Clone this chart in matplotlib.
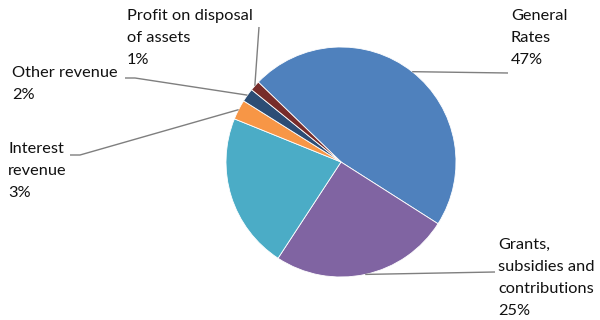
import matplotlib.pyplot as plt
import numpy as np

categories = ["General Rates", "Grants, subsidies and contributions", "Fees and charges",
              "Interest revenue", "Other revenue", "Profit on disposal of assets"]
shares = [46.8, 25.2, 21.9, 2.8, 1.9, 1.4]
# label text with line breaks as shown on chart ("" = not labelled)
names = ["General\nRates", "Grants,\nsubsidies and\ncontributions", "",
         "Interest\nrevenue", "Other revenue", "Profit on disposal\nof assets"]
colors = ["#4F81BD", "#8064A2", "#4BACC6", "#F79646", "#2C4D75", "#772C2A"]

W, H = 600, 320


def Y(y):
    return H - y


fig = plt.figure(figsize=(6, 3.2), dpi=100)
ax = fig.add_axes([0, 0, 1, 1])

cx, cy, R = 341, Y(162), 115
wedges, _ = ax.pie(shares, colors=colors, startangle=136, counterclock=False,
                   center=(cx, cy), radius=R,
                   wedgeprops=dict(linewidth=0.6, edgecolor="white"))

ax.set_xlim(0, W)
ax.set_ylim(0, H)
ax.set_aspect("equal")
ax.axis("off")

# text top-left corner and leader path (from text side) for each label
text_pos = [(511, 9), (498, 238), None, (8, 142), (12, 66), (127, 9)]
leader = [[(508, 73)], [(495, 272)], None, [(70, 155), (80, 155)],
          [(125, 78), (135, 78)], [(259, 27)]]

for i, w in enumerate(wedges):
    if text_pos[i] is None:
        continue
    tx, ty = text_pos[i]
    ax.text(tx, Y(ty), f"{names[i]}\n{round(shares[i])}%", ha="left", va="top",
            fontsize=11.8, family="Lato", color="#111111", linespacing=1.74)
    mid = np.deg2rad((w.theta1 + w.theta2) / 2)
    ex, ey = cx + R * np.cos(mid), cy + R * np.sin(mid)
    pts = [(x, Y(y)) for x, y in leader[i]] + [(ex, ey)]
    xs, ys = zip(*pts)
    ax.plot(xs, ys, color="#7f7f7f", lw=1, solid_capstyle="butt")

fig.savefig("out.png", dpi=100)
